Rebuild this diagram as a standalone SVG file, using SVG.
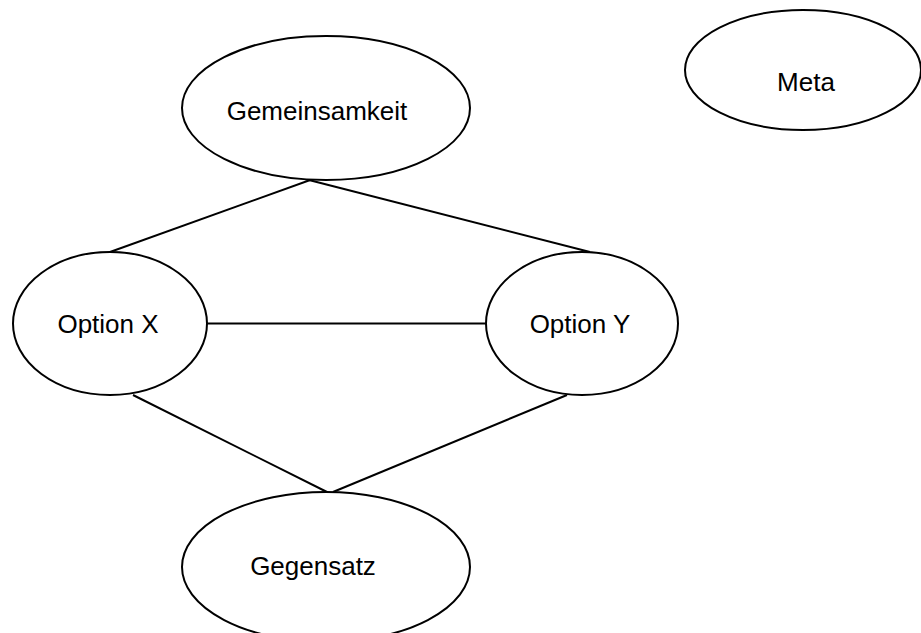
<svg xmlns="http://www.w3.org/2000/svg" width="921" height="633" viewBox="0 0 921 633">
<style>
.n{fill:#fff;stroke:#000;stroke-width:2}
.c line{stroke:#000;stroke-width:2}
text{font-family:"Liberation Sans",Arial,sans-serif;font-size:26px;fill:#000;text-anchor:middle}
</style>
<rect width="921" height="633" fill="#fff"/>
<g id="connectors" class="c">
<line x1="313" y1="179" x2="110" y2="252"/>
<line x1="305" y1="179" x2="590" y2="252"/>
<line x1="206" y1="323.5" x2="486" y2="323.5"/>
<line x1="133" y1="395" x2="327" y2="492"/>
<line x1="567" y1="395" x2="333" y2="492"/>
</g>
<g id="gemeinsamkeit"><ellipse class="n" cx="326" cy="108" rx="144" ry="72"/><text x="317" y="120">Gemeinsamkeit</text></g>
<g id="meta"><ellipse class="n" cx="803" cy="70" rx="118" ry="60"/><text x="806" y="91">Meta</text></g>
<g id="optionx"><ellipse class="n" cx="110" cy="323.5" rx="97" ry="71.5"/><text x="108" y="333">Option X</text></g>
<g id="optiony"><ellipse class="n" cx="582" cy="323.5" rx="96" ry="71.5"/><text x="580" y="333">Option Y</text></g>
<g id="gegensatz"><ellipse class="n" cx="326" cy="567" rx="144" ry="75"/><text x="313" y="575">Gegensatz</text></g>
</svg>
